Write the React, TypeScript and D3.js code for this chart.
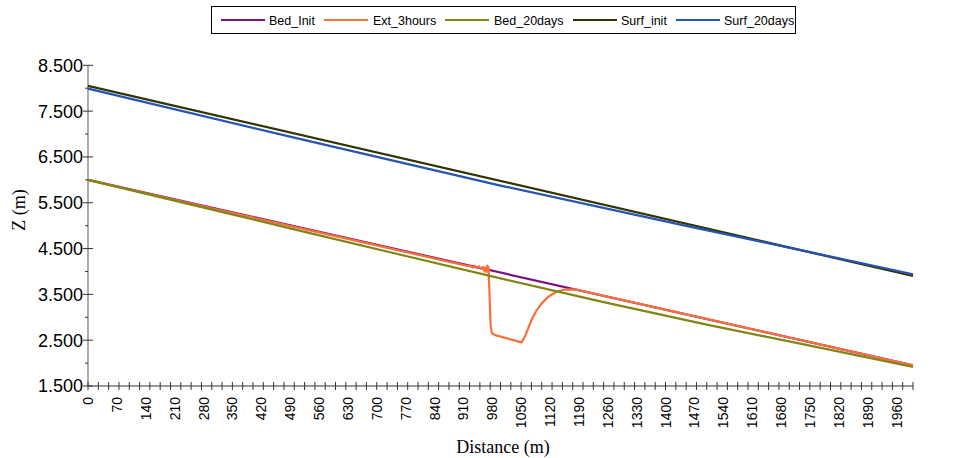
import React from "react";
import * as d3 from "d3";

// ---- data ----
const bedInitDist = [0, 2000];
const bedInitZ = [6.0, 1.95];

const ext3hDist = [0, 300, 600, 914, 926, 933, 938, 943, 948, 953, 958, 961, 963, 966, 968, 971, 973, 976, 979, 987, 1051, 1059, 1067, 1075, 1088, 1100, 1116, 1136, 1156, 1181, 2000];
const ext3hZ = [6.0, 5.38, 4.77, 4.133, 4.118, 4.085, 4.125, 4.07, 4.11, 4.06, 4.1, 4.0, 4.08, 3.99, 4.13, 4.08, 3.594, 2.83, 2.655, 2.61, 2.452, 2.574, 2.758, 2.939, 3.158, 3.303, 3.448, 3.557, 3.605, 3.61, 1.95];

const bed20Dist = [0, 250, 500, 750, 1000, 1250, 1500, 1750, 2000];
const bed20Z = [6.0, 5.46, 4.92, 4.38, 3.85, 3.33, 2.84, 2.38, 1.915];

const surfInitDist = [0, 2000];
const surfInitZ = [8.05, 3.9];

const surf20Dist = [0, 500, 1000, 1450, 1700, 2000];
const surf20Z = [7.99, 6.92, 5.875, 4.995, 4.52, 3.94];

const seriesNames = ["Bed_Init", "Ext_3hours", "Bed_20days", "Surf_init", "Surf_20days"];
const seriesColors = ["#7f117f", "#f7703a", "#7f8614", "#333300", "#2554b4"];

const yTickValues = [8.5, 7.5, 6.5, 5.5, 4.5, 3.5, 2.5, 1.5];
const yMinorValues = [8, 7, 6, 5, 4, 3, 2];
const xLabelValues = d3.range(0, 1961, 70);
const xTickValues = d3.range(0, 2001, 25);

const W = 958;
const H = 458;

export default function App() {
  const x = d3.scaleLinear().domain([0, 2000]).range([88, 913]);
  const y = d3.scaleLinear().domain([1.5, 8.5]).range([386, 65.3]);

  const series = [
    { dist: bedInitDist, z: bedInitZ },
    { dist: ext3hDist, z: ext3hZ },
    { dist: bed20Dist, z: bed20Z },
    { dist: surfInitDist, z: surfInitZ },
    { dist: surf20Dist, z: surf20Z },
  ];

  const line = d3
    .line<[number, number]>()
    .x((p) => x(p[0]))
    .y((p) => y(p[1]));

  const legendItems = [
    { lx: 221, tx: 269 },
    { lx: 324, tx: 373 },
    { lx: 445, tx: 494 },
    { lx: 573, tx: 621 },
    { lx: 676, tx: 724 },
  ];

  const axisColor = "#7f7f7f";
  const tickColor = "#333";

  return (
    <svg
      width={W}
      height={H}
      style={{ position: "absolute", left: 0, top: 0, background: "#fff" }}
      fontFamily="Liberation Sans, Arial, sans-serif"
    >
      {/* legend */}
      <rect x={211.5} y={6.5} width={584} height={27} fill="#fff" stroke="#000" strokeWidth={1} />
      {seriesNames.map((name, i) => (
        <g key={name}>
          <line
            x1={legendItems[i].lx}
            x2={legendItems[i].lx + 44}
            y1={20}
            y2={20}
            stroke={seriesColors[i]}
            strokeWidth={2.2}
          />
          <text x={legendItems[i].tx} y={24.5} fontSize={12.5} fill="#000">
            {name}
          </text>
        </g>
      ))}

      {/* y axis */}
      <line x1={88} x2={88} y1={y(8.5)} y2={y(1.5)} stroke={axisColor} strokeWidth={1.3} />
      {yTickValues.map((v) => (
        <g key={"yt" + v}>
          <line x1={83} x2={93} y1={y(v)} y2={y(v)} stroke={tickColor} strokeWidth={1} />
          <text x={83} y={y(v)} dy="0.36em" textAnchor="end" fontSize={18} fill="#000">
            {d3.format(".3f")(v)}
          </text>
        </g>
      ))}
      {yMinorValues.map((v) => (
        <line key={"ym" + v} x1={85} x2={88} y1={y(v)} y2={y(v)} stroke={tickColor} strokeWidth={1} />
      ))}

      {/* x axis */}
      <line x1={88} x2={913} y1={386} y2={386} stroke={tickColor} strokeWidth={1.2} />
      {xTickValues.map((v) => (
        <line key={"xt" + v} x1={x(v)} x2={x(v)} y1={382} y2={390} stroke={tickColor} strokeWidth={1} />
      ))}
      {xLabelValues.map((v) => (
        <text
          key={"xl" + v}
          transform={`translate(${x(v)},397) rotate(-90)`}
          textAnchor="end"
          dy="0.36em"
          fontSize={14}
          fill="#000"
        >
          {v}
        </text>
      ))}

      {/* axis titles */}
      <text
        transform="translate(25,210) rotate(-90)"
        textAnchor="middle"
        fontFamily="Liberation Serif, Times New Roman, serif"
        fontSize={18}
        fill="#000"
      >
        Z (m)
      </text>
      <text
        x={503}
        y={453}
        textAnchor="middle"
        fontFamily="Liberation Serif, Times New Roman, serif"
        fontSize={18}
        fill="#000"
      >
        Distance (m)
      </text>

      {/* series */}
      {series.map((s, i) => (
        <path
          key={seriesNames[i]}
          d={line(s.dist.map((dd, k) => [dd, s.z[k]] as [number, number])) || ""}
          fill="none"
          stroke={seriesColors[i]}
          strokeWidth={2.2}
          strokeLinejoin="round"
        />
      ))}
    </svg>
  );
}
